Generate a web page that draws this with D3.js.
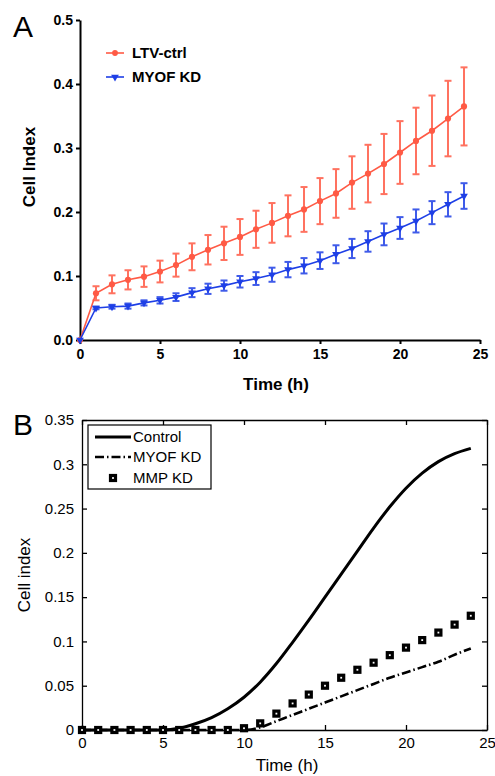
<!DOCTYPE html>
<html>
<head>
<meta charset="utf-8">
<script src="https://cdn.jsdelivr.net/npm/d3@7"></script>
<style>
  body { margin: 0; background: #fff; }
  .axA text { font-family: "Liberation Sans", Arial, sans-serif; font-weight: bold; font-size: 14px; fill: #000; }
  .axA path, .axA line { stroke: #000; stroke-width: 2px; }
  .axB text { font-family: "Liberation Sans", Arial, sans-serif; font-size: 15px; fill: #000; }
  .axB path, .axB line { stroke: #000; stroke-width: 1.3px; }
</style>
</head>
<body>
<div id="chart"></div>
<script>
// ---- data ----
var hours = [0, 1, 2, 3, 4, 5, 6, 7, 8, 9, 10, 11, 12, 13, 14, 15, 16, 17, 18, 19, 20, 21, 22, 23, 24];

// panel A: mean +/- error
var ltvMean = [0.0, 0.073, 0.087, 0.094, 0.099, 0.107, 0.117, 0.130, 0.141, 0.151, 0.161, 0.173, 0.183,
               0.194, 0.204, 0.217, 0.229, 0.246, 0.260, 0.275, 0.293, 0.311, 0.327, 0.346, 0.365];
var ltvErr  = [0.0, 0.011, 0.014, 0.015, 0.016, 0.017, 0.018, 0.021, 0.023, 0.026, 0.028, 0.029, 0.031,
               0.032, 0.035, 0.036, 0.038, 0.041, 0.045, 0.047, 0.049, 0.052, 0.055, 0.059, 0.061];
var myofMean = [0.0, 0.050, 0.052, 0.053, 0.058, 0.062, 0.067, 0.074, 0.080, 0.085, 0.091, 0.096, 0.102,
                0.110, 0.116, 0.124, 0.134, 0.143, 0.154, 0.165, 0.175, 0.186, 0.199, 0.212, 0.225];
var myofErr  = [0.0, 0.002, 0.003, 0.004, 0.004, 0.005, 0.006, 0.007, 0.008, 0.008, 0.009, 0.010, 0.011,
                0.012, 0.012, 0.013, 0.014, 0.015, 0.016, 0.017, 0.017, 0.018, 0.018, 0.019, 0.020];

// panel B
var controlB = [0, 0, 0, 0, 0, 0, 0.002, 0.007, 0.014, 0.024, 0.037, 0.054, 0.075,
                0.099, 0.124, 0.150, 0.176, 0.202, 0.228, 0.252, 0.273, 0.290, 0.303, 0.312, 0.318];
var myofB    = [0, 0, 0, 0, 0, 0, 0, 0, 0, 0, 0, 0.003, 0.010,
                0.017, 0.024, 0.031, 0.038, 0.045, 0.052, 0.059, 0.065, 0.071, 0.077, 0.085, 0.092];
var mmpB     = [0, 0, 0, 0, 0, 0, 0, 0, 0, 0, 0.002, 0.0075, 0.0185,
                0.030, 0.040, 0.050, 0.059, 0.068, 0.076, 0.0845, 0.093, 0.1015, 0.110, 0.119, 0.129];

var xTicks = [0, 5, 10, 15, 20, 25];
var yTicksA = [0, 0.1, 0.2, 0.3, 0.4, 0.5];
var yTicksB = [0, 0.05, 0.1, 0.15, 0.2, 0.25, 0.3, 0.35];

var red = "#ff5a45", blue = "#1e3fe6";

var svg = d3.select("#chart").append("svg")
    .attr("width", 495)
    .attr("height", 776);

// ================= panel A =================
var xA = d3.scaleLinear().domain([0, 25]).range([80, 480]);
var yA = d3.scaleLinear().domain([0, 0.5]).range([340, 20]);

var gA = svg.append("g");

gA.append("g")
    .attr("class", "axA")
    .attr("transform", "translate(0,340)")
    .call(d3.axisBottom(xA).tickValues(xTicks).tickSizeInner(4).tickSizeOuter(0).tickPadding(5));

gA.append("g")
    .attr("class", "axA")
    .attr("transform", "translate(80,0)")
    .call(d3.axisLeft(yA).tickValues(yTicksA).tickFormat(d3.format(".1f")).tickSizeInner(4).tickSizeOuter(0).tickPadding(3));

function drawSeries(g, mean, err, color, marker) {
  var pts = hours.map(function(h, i) { return {t: h, v: mean[i], e: err[i]}; });

  // error bars
  var eb = g.append("g").selectAll("g").data(pts.filter(function(d) { return d.e > 0; }))
    .enter().append("g")
      .style("stroke", color)
      .style("stroke-width", 2)
      .style("opacity", 0.85);
  eb.append("line")
      .attr("x1", function(d) { return xA(d.t); })
      .attr("x2", function(d) { return xA(d.t); })
      .attr("y1", function(d) { return yA(d.v + d.e); })
      .attr("y2", function(d) { return yA(d.v - d.e); });
  eb.append("line")
      .attr("x1", function(d) { return xA(d.t) - 3.5; })
      .attr("x2", function(d) { return xA(d.t) + 3.5; })
      .attr("y1", function(d) { return yA(d.v + d.e); })
      .attr("y2", function(d) { return yA(d.v + d.e); });
  eb.append("line")
      .attr("x1", function(d) { return xA(d.t) - 3.5; })
      .attr("x2", function(d) { return xA(d.t) + 3.5; })
      .attr("y1", function(d) { return yA(d.v - d.e); })
      .attr("y2", function(d) { return yA(d.v - d.e); });

  // mean line
  g.append("path")
      .datum(pts)
      .attr("fill", "none")
      .attr("stroke", color)
      .attr("stroke-width", 1.6)
      .attr("d", d3.line().x(function(d) { return xA(d.t); }).y(function(d) { return yA(d.v); }));

  // markers
  g.append("g").selectAll("path").data(pts)
    .enter().append("path")
      .attr("transform", function(d) { return "translate(" + xA(d.t) + "," + yA(d.v) + ")" + (marker === "tri" ? " rotate(180)" : ""); })
      .attr("d", d3.symbol().type(marker === "tri" ? d3.symbolTriangle : d3.symbolCircle).size(marker === "tri" ? 26 : 30))
      .attr("fill", color);
}

drawSeries(gA, ltvMean, ltvErr, red, "circle");
drawSeries(gA, myofMean, myofErr, blue, "tri");

// legend A
var legA = [{name: "LTV-ctrl", color: red, marker: "circle", y: 53},
            {name: "MYOF KD", color: blue, marker: "tri", y: 77}];
legA.forEach(function(l) {
  gA.append("line").attr("x1", 106).attr("x2", 124).attr("y1", l.y).attr("y2", l.y)
      .attr("stroke", l.color).attr("stroke-width", 1.6);
  gA.append("path")
      .attr("transform", "translate(115," + l.y + ")" + (l.marker === "tri" ? " rotate(180)" : ""))
      .attr("d", d3.symbol().type(l.marker === "tri" ? d3.symbolTriangle : d3.symbolCircle).size(26))
      .attr("fill", l.color);
  gA.append("text").attr("x", 132).attr("y", l.y).attr("dy", "0.36em")
      .style("font-family", "Liberation Sans, Arial, sans-serif")
      .style("font-weight", "bold").style("font-size", "15px")
      .text(l.name);
});

// axis titles A
gA.append("text")
    .attr("transform", "translate(35,167) rotate(-90)")
    .attr("text-anchor", "middle")
    .style("font-family", "Liberation Sans, Arial, sans-serif")
    .style("font-weight", "bold").style("font-size", "17px")
    .text("Cell Index");
gA.append("text")
    .attr("x", 276).attr("y", 390)
    .attr("text-anchor", "middle")
    .style("font-family", "Liberation Sans, Arial, sans-serif")
    .style("font-weight", "bold").style("font-size", "17px")
    .text("Time (h)");
gA.append("text")
    .attr("x", 13).attr("y", 37)
    .style("font-family", "Liberation Sans, Arial, sans-serif")
    .style("font-size", "30px")
    .text("A");

// ================= panel B =================
var xB = d3.scaleLinear().domain([0, 25]).range([82, 487]);
var yB = d3.scaleLinear().domain([0, 0.35]).range([730, 420]);

var gB = svg.append("g");

// box with inward ticks
gB.append("g").attr("class", "axB").attr("transform", "translate(0,730)")
    .call(d3.axisBottom(xB).tickValues(xTicks).tickSizeInner(-5).tickSizeOuter(0).tickPadding(7));
gB.append("g").attr("class", "axB").attr("transform", "translate(82,0)")
    .call(d3.axisLeft(yB).tickValues(yTicksB).tickFormat(function(d) { return String(d); })
          .tickSizeInner(-5).tickSizeOuter(0).tickPadding(8));
gB.append("g").attr("class", "axB").attr("transform", "translate(0,420)")
    .call(d3.axisTop(xB).tickValues(xTicks).tickSizeInner(-5).tickSizeOuter(0).tickFormat(""));
gB.append("g").attr("class", "axB").attr("transform", "translate(487,0)")
    .call(d3.axisRight(yB).tickValues(yTicksB).tickSizeInner(-5).tickSizeOuter(0).tickFormat(""));

var lineB = function(vals) {
  return d3.line().curve(d3.curveMonotoneX)
      .x(function(d, i) { return xB(hours[i]); })
      .y(function(d) { return yB(d); })(vals);
};

// MYOF KD dash-dot
gB.append("path")
    .attr("d", lineB(myofB))
    .attr("fill", "none").attr("stroke", "#000").attr("stroke-width", 2.6)
    .attr("stroke-dasharray", "9,3,1.5,3");

// control
gB.append("path")
    .attr("d", lineB(controlB))
    .attr("fill", "none").attr("stroke", "#000").attr("stroke-width", 3);

// MMP KD squares
gB.append("g").selectAll("rect").data(mmpB)
  .enter().append("rect")
    .attr("x", function(d, i) { return xB(hours[i]) - 2.5; })
    .attr("y", function(d) { return yB(d) - 2.5; })
    .attr("width", 5).attr("height", 5)
    .attr("fill", "#fff").attr("stroke", "#000").attr("stroke-width", 3.2);

// legend B
gB.append("rect").attr("x", 88).attr("y", 425).attr("width", 123).attr("height", 64)
    .attr("fill", "#fff").attr("stroke", "#000").attr("stroke-width", 1.2);
var legB = [{name: "Control", y: 437, dash: null},
            {name: "MYOF KD", y: 457, dash: "9,3,1.5,3"},
            {name: "MMP KD", y: 478, dash: "square"}];
legB.forEach(function(l) {
  if (l.dash === "square") {
    gB.append("rect").attr("x", 110.5).attr("y", l.y - 2.5).attr("width", 5).attr("height", 5)
        .attr("fill", "#fff").attr("stroke", "#000").attr("stroke-width", 3.2);
  } else {
    gB.append("line").attr("x1", 95).attr("x2", 131).attr("y1", l.y).attr("y2", l.y)
        .attr("stroke", "#000").attr("stroke-width", l.dash ? 2.6 : 3)
        .attr("stroke-dasharray", l.dash);
  }
  gB.append("text").attr("x", 133).attr("y", l.y).attr("dy", "0.36em")
      .style("font-family", "Liberation Sans, Arial, sans-serif")
      .style("font-size", "15px")
      .text(l.name);
});

// axis titles B
gB.append("text")
    .attr("transform", "translate(30,575) rotate(-90)")
    .attr("text-anchor", "middle")
    .style("font-family", "Liberation Sans, Arial, sans-serif")
    .style("font-size", "17px")
    .text("Cell index");
gB.append("text")
    .attr("x", 287).attr("y", 771)
    .attr("text-anchor", "middle")
    .style("font-family", "Liberation Sans, Arial, sans-serif")
    .style("font-size", "17px")
    .text("Time (h)");
gB.append("text")
    .attr("x", 13).attr("y", 435)
    .style("font-family", "Liberation Sans, Arial, sans-serif")
    .style("font-size", "30px")
    .text("B");
</script>
</body>
</html>
